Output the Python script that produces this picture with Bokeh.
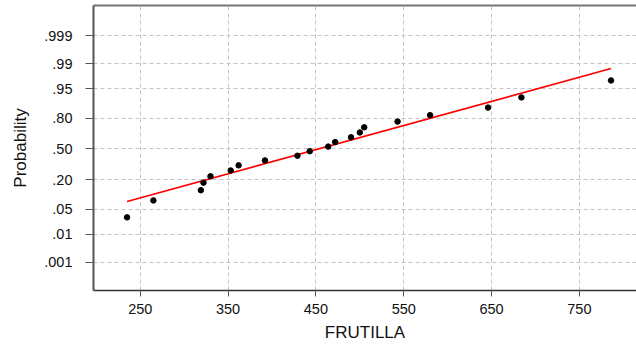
from statistics import NormalDist
from bokeh.plotting import figure
from bokeh.models import FixedTicker, LinearAxis, Range1d
from bokeh.embed import file_html
from bokeh.resources import INLINE

# Observed values (sorted) of FRUTILLA
frutilla = [235, 265, 319, 322, 330, 353, 362, 392, 429, 443,
            464, 472, 490, 500, 505, 543, 580, 646, 684, 786]
# Plotting positions (cumulative probability) for each ranked value
probability = [0.031, 0.080, 0.130, 0.179, 0.228, 0.278, 0.327, 0.377, 0.426, 0.475,
               0.525, 0.574, 0.624, 0.673, 0.722, 0.772, 0.821, 0.870, 0.920, 0.969]
# Fitted normal line parameters
fit_mean = 453
fit_sd = 152

y_tick_probs = [0.001, 0.01, 0.05, 0.20, 0.50, 0.80, 0.95, 0.99, 0.999]
y_tick_labels = [".001", ".01", ".05", ".20", ".50", ".80", ".95", ".99", ".999"]
x_ticks = [250, 350, 450, 550, 650, 750]

nd = NormalDist()
z_points = [nd.inv_cdf(p) for p in probability]
z_ticks = [nd.inv_cdf(p) for p in y_tick_probs]
line_x = [min(frutilla), max(frutilla)]
line_z = [(v - fit_mean) / fit_sd for v in line_x]

FONT = "Liberation Sans"

p = figure(width=636, height=350, output_backend="svg", toolbar_location=None,
           x_range=Range1d(196.8, 815), y_range=Range1d(-3.86, 3.91),
           min_border_left=93, min_border_right=0, min_border_top=5, min_border_bottom=60)
p.outline_line_color = None
p.background_fill_color = "white"
p.border_fill_color = "white"

p.line(line_x, line_z, line_color="red", line_width=1.6)
p.scatter(frutilla, z_points, size=5.5, fill_color="black", line_color="black")

# Axes
xa = p.xaxis[0]
xa.ticker = FixedTicker(ticks=x_ticks)
xa.axis_label = "FRUTILLA"
xa.axis_label_text_font = FONT
xa.axis_label_text_font_size = "17px"
xa.axis_label_text_font_style = "normal"
xa.axis_label_text_color = "#111111"
xa.axis_label_standoff = 6
xa.major_label_text_font = FONT
xa.major_label_text_font_size = "14.5px"
xa.major_label_text_color = "#111111"
xa.major_label_standoff = 7
xa.major_tick_out = 6
xa.major_tick_in = 0
xa.minor_tick_line_color = None
xa.axis_line_color = "#333333"
xa.axis_line_width = 1.5
xa.major_tick_line_color = "#555555"

ya = p.yaxis[0]
ya.ticker = FixedTicker(ticks=z_ticks)
ya.major_label_overrides = {z: lab for z, lab in zip(z_ticks, y_tick_labels)}
ya.axis_label = "Probability"
ya.axis_label_text_font = FONT
ya.axis_label_text_font_size = "17px"
ya.axis_label_text_font_style = "normal"
ya.axis_label_text_color = "#111111"
ya.axis_label_standoff = 11
ya.major_label_text_font = FONT
ya.major_label_text_font_size = "14.5px"
ya.major_label_text_color = "#111111"
ya.major_label_standoff = 13
ya.major_tick_out = 8
ya.major_tick_in = 0
ya.minor_tick_line_color = None
ya.axis_line_color = "#555555"
ya.axis_line_width = 2
ya.major_tick_line_color = "#555555"

top = LinearAxis(ticker=FixedTicker(ticks=[]), major_label_text_font_size="0px",
                 major_tick_line_color=None, minor_tick_line_color=None,
                 major_label_standoff=0, axis_line_color="#777777", axis_line_width=2)
p.add_layout(top, "above")

# Grid
p.xgrid.ticker = FixedTicker(ticks=x_ticks)
p.ygrid.ticker = FixedTicker(ticks=z_ticks)
for g in (p.xgrid[0], p.ygrid[0]):
    g.grid_line_color = "#c4c4c4"
    g.grid_line_dash = "4 3"
    g.grid_line_width = 1

open("out.html", "w").write(file_html(p, INLINE))
